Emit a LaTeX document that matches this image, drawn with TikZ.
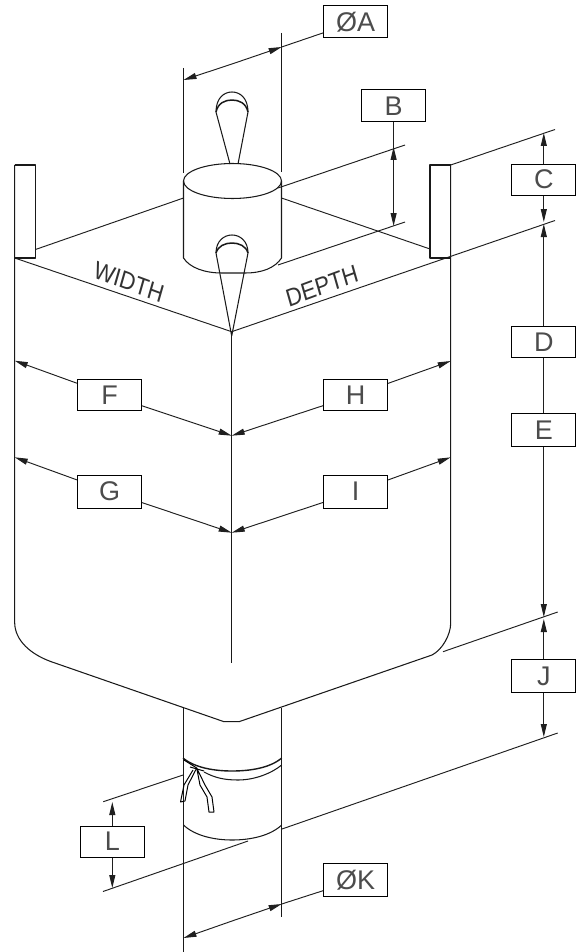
\documentclass[tikz,border=0pt]{standalone}
\usepackage{fontspec}
\setmainfont{Liberation Sans}
\usetikzlibrary{arrows.meta}
\tikzset{
  x=1pt,y=-1pt,
  ln/.style={line width=1.05pt,black!90,line join=round},
  thin ln/.style={line width=0.95pt,black!88},
  dim/.style={thin ln,-{Stealth[length=13pt,width=6pt,inset=0pt]}},
  tagbox/.style={draw,line width=1.05pt,fill=white,minimum width=64pt,minimum height=#1,inner sep=0pt,font=\fontsize{27}{27}\selectfont,text=black!70},
  tagbox/.default=32pt,
  lab/.style={font=\fontsize{25}{25}\selectfont,text=black!80,inner sep=0pt,xscale=0.88}
}
\begin{document}
\begin{tikzpicture}
\useasboundingbox (0,0) rectangle (576,952);
% coordinates
\coordinate (Atop) at (281.7,47);
\coordinate (Amid) at (232,64);
\coordinate (Aleft) at (183.5,80);
\coordinate (Btop) at (393.6,147);
\coordinate (Bmid) at (393.6,170);
\coordinate (Bbot) at (393.6,226);
\coordinate (Ctop) at (543.8,133);
\coordinate (Cbot) at (543.8,222);
\coordinate (Dtop) at (543.8,224);
\coordinate (Ebot) at (543.8,617);
\coordinate (Jtop) at (543.8,619);
\coordinate (Jbot) at (543.8,737);
\coordinate (Ltop) at (112.3,802);
\coordinate (Lbot) at (112.3,888);
\coordinate (Kright) at (281.7,904);
\coordinate (Kmid) at (232,921);
\coordinate (Kleft) at (183.5,938);
\coordinate (F1) at (14.7,360.7);
\coordinate (F2) at (231.7,435.7);
\coordinate (H1) at (450.7,361);
\coordinate (H2) at (231.7,435.7);
\coordinate (G1) at (14.7,457.3);
\coordinate (G2) at (231.7,532.7);
\coordinate (I1) at (450.7,457.3);
\coordinate (I2) at (231.7,532.7);
% bag body
\draw[ln] (14.7,165) -- (14.7,623) .. controls (15,640) and (30,655) .. (55,663)
  -- (224,721.7) -- (239,721.7) -- (432,655) .. controls (442,650) and (450.7,635) .. (450.7,623) -- (450.7,165);
\draw[ln] (231.7,331.7) -- (231.7,663);
\draw[thin ln] (14.7,258) -- (231.7,331.7);
\draw[thin ln] (231.7,331.7) -- (555,220.5);
% tabs
\draw[ln] (14.7,258) -- (35.5,258) -- (35.5,165) -- (14.7,165);
\draw[ln] (450.7,258) -- (430,258) -- (430,165) -- (450.7,165);
% back top edges
\draw[thin ln] (35.5,249.5) -- (183.5,198);
\draw[thin ln] (281.5,198) -- (430,249);
% top cylinder
\draw[ln] (183.5,68) -- (183.5,173);
\draw[ln] (281.5,33) -- (281.5,172);
\draw[ln] (183.5,181) -- (183.5,258) .. controls (190,268) and (205,273) .. (222,273) -- (245,273) .. controls (262,273) and (275,268) .. (281.5,258) -- (281.5,181);
\draw[ln] (232.5,181) ellipse [x radius=49, y radius=17.5];
% extension lines
\draw[thin ln] (278,188) -- (405,145);
\draw[thin ln] (278,265) -- (405,222);
\draw[thin ln] (450.7,165) -- (555,129.5);
\draw[thin ln] (443,651.7) -- (557.7,612);
\draw[thin ln] (103,891.5) -- (248,841);
\draw[thin ln] (282,829) -- (557.7,733);
\draw[thin ln] (103.3,801.7) -- (183,775);
% loops
\draw[ln] (230,164) -- (216,112) .. controls (216,98) and (224,92) .. (232,92) .. controls (240,92) and (248,98) .. (248,112) -- (238,164);
\draw[ln,line width=1.5pt] (216,112) .. controls (218,103) and (225,100) .. (232,100) .. controls (239,100) and (246,103) .. (248,112);
\draw[ln] (231.7,336) -- (216,253) .. controls (216,241) and (224,235) .. (232,235) .. controls (240,235) and (248,241) .. (248,253) -- (231.7,336);
\draw[ln,line width=1.5pt] (216,253) .. controls (218,246) and (225,243) .. (232,243) .. controls (239,243) and (246,246) .. (248,253);
% lower spout
\draw[ln] (183.5,708) -- (183.5,951.7);
\draw[ln] (281.7,708) -- (281.7,917);
\draw[ln] (183.5,825) .. controls (195,836) and (215,840) .. (232,840) .. controls (250,840) and (270,836) .. (281.7,825);
\draw[ln,line width=1.4pt] (183,758) .. controls (195,768) and (215,771) .. (232,771) .. controls (250,771) and (270,768) .. (281.7,758);
\draw[ln] (204,772) .. controls (215,778) and (225,780) .. (238,780) .. controls (255,780) and (272,773) .. (281.7,765);
% rope
\draw[line width=1pt,line join=round] (184,760) -- (196.7,768) -- (188,785) -- (185,801);
\draw[line width=1pt,line join=round] (193,770) -- (184,785) -- (180.5,802) -- (185,801);
\draw[line width=1pt,line join=round] (196.7,768) -- (205,785) -- (212,797) -- (214,812) -- (209,812) -- (207,797) -- (200,785) -- (196.7,768);
\draw[line width=1pt] (190,767) -- (204,771);
% boxes
\node[tagbox] (A) at (355.7,21.8) {ØA};
\node[tagbox] (B) at (393.6,105.8) {B};
\node[tagbox=31pt] (C) at (543.8,179.6) {C};
\node[tagbox=31pt] (D) at (543.8,342) {D};
\node[tagbox=33pt] (E) at (543.8,430) {E};
\node[tagbox=31pt] (F) at (109.5,395) {F};
\node[tagbox=33pt] (G) at (109.5,491.7) {G};
\node[tagbox=31pt] (H) at (355.5,395) {H};
\node[tagbox=33pt] (I) at (355.5,491.7) {I};
\node[tagbox=33pt] (J) at (543.8,676.3) {J};
\node[tagbox=33pt] (K) at (355.7,880.2) {ØK};
\node[tagbox=31pt] (L) at (112.3,841.7) {L};
% connectors
\draw[thin ln] (A) -- (Atop);
\draw[dim] (Amid) -- (Atop);
\draw[dim] (Amid) -- (Aleft);
\draw[dim] (B) -- (Bbot);
\draw[dim] (Bmid) -- (Btop);
\draw[dim] (C) -- (Ctop);
\draw[dim] (C) -- (Cbot);
\draw[dim] (D) -- (Dtop);
\draw[thin ln] (D) -- (E);
\draw[dim] (E) -- (Ebot);
\draw[dim] (J) -- (Jtop);
\draw[dim] (J) -- (Jbot);
\draw[dim] (L) -- (Ltop);
\draw[dim] (L) -- (Lbot);
\draw[thin ln] (K) -- (Kright);
\draw[dim] (Kmid) -- (Kright);
\draw[dim] (Kmid) -- (Kleft);
\draw[dim] (F) -- (F1);
\draw[dim] (F) -- (F2);
\draw[dim] (H) -- (H1);
\draw[dim] (H) -- (H2);
\draw[dim] (G) -- (G1);
\draw[dim] (G) -- (G2);
\draw[dim] (I) -- (I1);
\draw[dim] (I) -- (I2);
% labels
\node[lab,rotate=-18] (wlab) at (129,282) {WIDTH};
\node[lab,rotate=18] (dlab) at (322,286) {DEPTH};
\end{tikzpicture}
\end{document}
